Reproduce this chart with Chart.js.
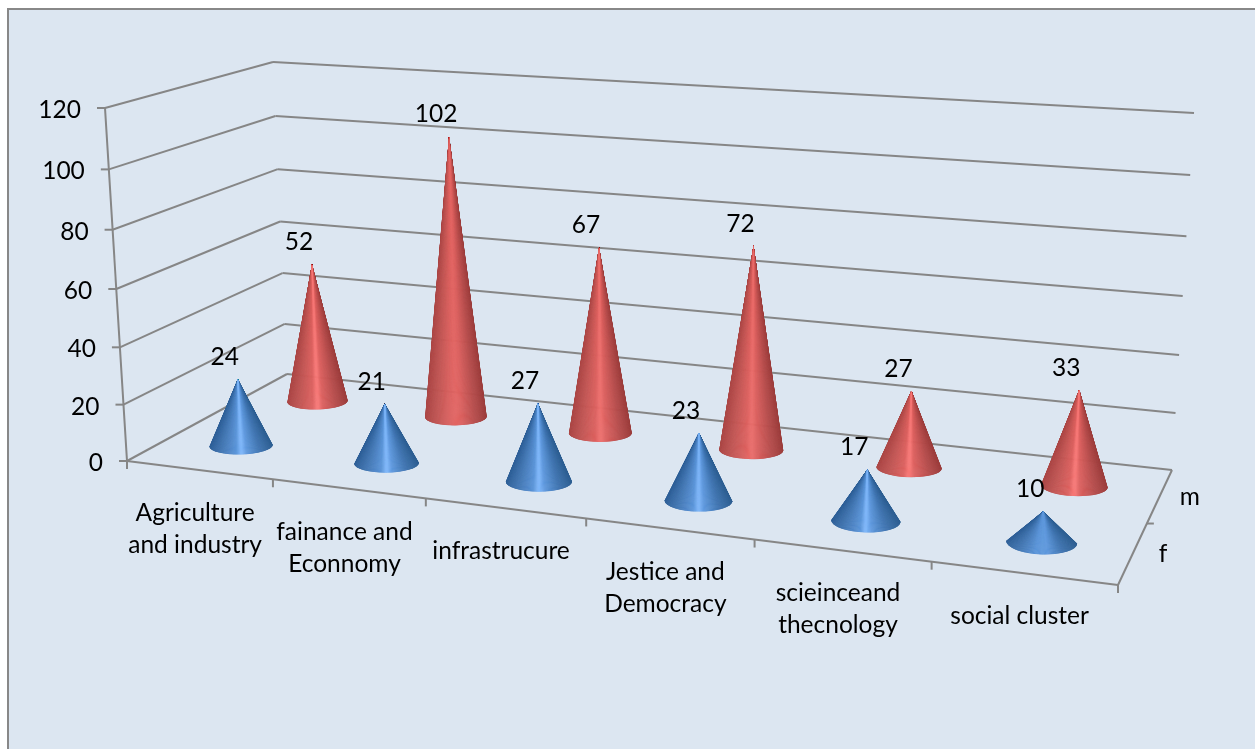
<!DOCTYPE html>
<html>
<head>
<meta charset="utf-8">
<title>Cone chart</title>
<style>
  html, body { margin: 0; padding: 0; background: #fff; }
  canvas { display: block; }
</style>
<script src="https://cdn.jsdelivr.net/npm/chart.js@4/dist/chart.umd.js"></script>
</head>
<body>
<canvas id="chart" width="1255" height="749"></canvas>
<script>
// chart values
const categories = [
    ['Agriculture', 'and industry'],
    ['fainance and', 'Econnomy'],
    ['infrastrucure'],
    ['Jestice and', 'Democracy'],
    ['scieinceand', 'thecnology'],
    ['social cluster']
];
const seriesNames = ['f', 'm'];
const fValues = [24, 21, 27, 23, 17, 10];
const mValues = [52, 102, 67, 72, 27, 33];

// how strong the highlight stripe is on each cone
const fShine = [1, 1, 1, 0.95, 1, 0.1];
const mShine = [1, 0.2, 0.6, 0.5, 1, 1];

// floor corners on screen: front-left, front-right, back-right, back-left
const floorQuad = [[127, 461], [1118, 585], [1172, 470], [287, 374]];
// top of the value axis: front-left, back-right, back-left
const topCorners = [[105, 108], [1194, 113], [273, 62]];
const DEPTH_PERSPECTIVE = -0.05;
const FONT = '24.5px Lato';
const GRID = '#868686';

// unit square to floor quad, as a homography
const floorH = (function (q) {
    const [p0, p1, p2, p3] = q;
    const dx1 = p1[0] - p2[0], dx2 = p3[0] - p2[0], sx = p0[0] - p1[0] + p2[0] - p3[0];
    const dy1 = p1[1] - p2[1], dy2 = p3[1] - p2[1], sy = p0[1] - p1[1] + p2[1] - p3[1];
    const det = dx1 * dy2 - dx2 * dy1;
    const g = (sx * dy2 - dx2 * sy) / det;
    const h = (dx1 * sy - sx * dy1) / det;
    return {
        g, h,
        x: [p1[0] - p0[0] + g * p1[0], p3[0] - p0[0] + h * p3[0], p0[0]],
        y: [p1[1] - p0[1] + g * p1[1], p3[1] - p0[1] + h * p3[1], p0[1]]
    };
})(floorQuad);

// top plane shares the floor's denominator so verticals stay straight
const topH = (function () {
    const j = DEPTH_PERSPECTIVE;
    const d00 = 1 + j, d01 = 1 + floorH.h + j, d11 = 1 + floorH.g + floorH.h + j;
    const solve = k => {
        const c = topCorners[0][k] * d00;
        const b = topCorners[2][k] * d01 - c;
        const a = topCorners[1][k] * d11 - b - c;
        return [a, b, c];
    };
    return { x: solve(0), y: solve(1) };
})();

// u across categories, v into depth, w up the value axis (all 0..1)
function project(u, v, w) {
    const den = floorH.g * u + floorH.h * v + 1 + DEPTH_PERSPECTIVE * w;
    const num = (f, t) => (f[0] * u + f[1] * v + f[2]) * (1 - w) + (t[0] * u + t[1] * v + t[2]) * w;
    return [num(floorH.x, topH.x) / den, num(floorH.y, topH.y) / den];
}

function line(ctx, p, q) {
    ctx.beginPath();
    ctx.moveTo(p[0], p[1]);
    ctx.lineTo(q[0], q[1]);
    ctx.stroke();
}

// shading across a cone, left to right; the stop at .5 is the highlight
const coneStops = {
    f: [[0, [47, 96, 152]], [0.2, [68, 120, 181]], [0.42, [90, 148, 216]], [0.5, [128, 184, 252]], [0.58, [95, 153, 222]], [0.8, [63, 116, 176]], [1, [46, 95, 146]]],
    m: [[0, [172, 72, 71]], [0.2, [194, 86, 84]], [0.42, [221, 97, 95]], [0.5, [250, 122, 120]], [0.58, [221, 97, 95]], [0.8, [184, 78, 77]], [1, [156, 62, 61]]]
};

function shadeAt(stops, t, shine) {
    for (let i = 1; i < stops.length; i++) {
        if (t <= stops[i][0] || i === stops.length - 1) {
            const a = stops[i - 1], b = stops[i];
            const f = (t - a[0]) / (b[0] - a[0]);
            // pull the highlight stop down to the flank colour on dull cones
            const cb = b[0] === 0.5 ? b[1].map((c, k) => stops[2][1][k] + (c - stops[2][1][k]) * shine) : b[1];
            const ca = a[0] === 0.5 ? a[1].map((c, k) => stops[2][1][k] + (c - stops[2][1][k]) * shine) : a[1];
            const rgb = ca.map((c, k) => Math.round(c + (cb[k] - c) * f));
            return 'rgb(' + rgb.join(',') + ')';
        }
    }
}

// bar controller that paints each bar as a cone on the 3D floor
class ConeController extends Chart.BarController {
    draw() {
        const ctx = this.chart.ctx;
        const meta = this.getMeta();
        const xs = meta.xScale, ys = meta.yScale;
        const name = seriesNames[this.index];
        const shine = name === 'f' ? fShine : mShine;
        const v = (this.index + 0.5) / seriesNames.length;
        meta.data.forEach((bar, i) => {
            const u = (xs.getPixelForValue(i) - xs.left) / xs.width;
            const w = (ys.bottom - bar.y) / ys.height;
            const apex = project(u, v, w);
            const base = project(u, v, 0);
            const du = (0.225 - 0.03 * u) / categories.length;
            const rx = (project(u + du, v, 0)[0] - project(u - du, v, 0)[0]) / 2;
            const ry = rx * (0.27 + 0.11 * (1 - v) * u);
            const tilt = -0.035 + 0.08 * u;
            const cosT = Math.cos(tilt), sinT = Math.sin(tilt);
            const rim = th => {
                const ex = rx * Math.cos(th), ey = ry * Math.sin(th);
                return [base[0] + ex * cosT - ey * sinT, base[1] + ex * sinT + ey * cosT];
            };
            ctx.save();
            // silhouette of the cone
            const left = rim(Math.PI);
            ctx.beginPath();
            ctx.moveTo(apex[0], apex[1]);
            ctx.lineTo(left[0], left[1]);
            ctx.ellipse(base[0], base[1], rx, ry, tilt, Math.PI, 0, true);
            ctx.closePath();
            ctx.clip();
            // fan of thin wedges so the shading converges at the tip, outer ones first
            const wedges = 90;
            const order = [];
            for (let k = 0; k < wedges; k++) {
                order.push(k);
            }
            order.sort((a, b) => Math.abs(b - wedges / 2) - Math.abs(a - wedges / 2));
            ctx.lineWidth = 0.6;
            order.forEach(k => {
                const p0 = rim(Math.PI - Math.PI * k / wedges);
                const p1 = rim(Math.PI - Math.PI * (k + 1) / wedges);
                const tm = (1 - Math.cos(Math.PI * (k + 0.5) / wedges)) / 2;
                const col = shadeAt(coneStops[name], tm, shine[i]);
                ctx.fillStyle = col;
                ctx.strokeStyle = col;
                ctx.beginPath();
                ctx.moveTo(apex[0], apex[1]);
                ctx.lineTo(p0[0], p0[1]);
                ctx.lineTo(p1[0], p1[1]);
                ctx.closePath();
                ctx.fill();
                ctx.stroke();
            });
            ctx.restore();
            bar.$apex = apex;
        });
    }
}
ConeController.id = 'cone';
ConeController.defaults = Chart.BarController.defaults;
ConeController.overrides = Chart.BarController.overrides;
Chart.register(ConeController);

const boxPlugin = {
    id: 'box3d',
    beforeDraw(chart) {
        const ctx = chart.ctx;
        ctx.save();
        ctx.fillStyle = '#fff';
        ctx.fillRect(0, 0, chart.width, chart.height);
        ctx.fillStyle = '#dce6f1';
        ctx.fillRect(8, 8, chart.width, chart.height);
        ctx.strokeStyle = '#888';
        ctx.lineWidth = 2;
        ctx.beginPath();
        ctx.moveTo(8, chart.height);
        ctx.lineTo(8, 9);
        ctx.lineTo(chart.width, 9);
        ctx.stroke();
        ctx.restore();
    },
    beforeDatasetsDraw(chart) {
        const ctx = chart.ctx;
        const ys = chart.scales.y, xs = chart.scales.x;
        ctx.save();
        ctx.strokeStyle = GRID;
        ctx.lineWidth = 2;
        ctx.fillStyle = '#000';
        ctx.font = FONT;
        ctx.textBaseline = 'middle';

        // value gridlines on side and back walls, with ticks and labels
        ctx.textAlign = 'right';
        ys.ticks.forEach(t => {
            const w = (ys.bottom - ys.getPixelForValue(t.value)) / ys.height;
            const front = project(0, 0, w), corner = project(0, 1, w), end = project(1, 1, w);
            line(ctx, [front[0] - 8, front[1]], front);
            line(ctx, front, corner);
            line(ctx, corner, end);
            ctx.fillText(t.label, front[0] - 24, front[1] + 2);
        });
        line(ctx, project(0, 0, 0), project(0, 0, 1));

        // floor edges and category labels
        line(ctx, project(0, 0, 0), project(1, 0, 0));
        line(ctx, project(1, 0, 0), project(1, 1, 0));
        ctx.textAlign = 'center';
        categories.forEach((lines, i) => {
            const u0 = (xs.getPixelForValue(i) - xs.left) / xs.width;
            const step = 1 / categories.length;
            const tick = project(u0 + step / 2, 0, 0);
            line(ctx, tick, [tick[0], tick[1] + 8]);
            const mid = project(u0, 0, 0);
            lines.forEach((txt, k) => ctx.fillText(txt, mid[0] - 4, mid[1] + 43 + k * 32));
        });
        const first = project(0, 0, 0);
        line(ctx, first, [first[0], first[1] + 8]);

        // depth ticks and series labels
        const mid = project(1, 0.5, 0);
        line(ctx, mid, [mid[0] + 7, mid[1]]);
        seriesNames.forEach((name, i) => {
            const p = project(1, (i + 0.5) / seriesNames.length, 0);
            ctx.fillText(name, p[0] + 30, p[1] + 1);
        });
        ctx.restore();
    },
    afterDatasetsDraw(chart) {
        const ctx = chart.ctx;
        ctx.save();
        ctx.fillStyle = '#000';
        ctx.font = FONT;
        ctx.textAlign = 'center';
        ctx.textBaseline = 'middle';
        chart.data.datasets.forEach((ds, d) => {
            chart.getDatasetMeta(d).data.forEach((bar, i) => {
                ctx.fillText(String(ds.data[i]), bar.$apex[0] - 13, bar.$apex[1] - 22);
            });
        });
        ctx.restore();
    }
};

new Chart(document.getElementById('chart'), {
    type: 'cone',
    data: {
        labels: categories.map(c => c.join(' ')),
        datasets: [
            { label: seriesNames[0], data: fValues },
            { label: seriesNames[1], data: mValues }
        ]
    },
    options: {
        responsive: false,
        animation: false,
        devicePixelRatio: 1,
        plugins: { legend: { display: false }, tooltip: { enabled: false } },
        scales: {
            x: { display: false },
            y: { display: false, min: 0, max: 120, ticks: { stepSize: 20 } }
        }
    },
    plugins: [boxPlugin]
});
</script>
</body>
</html>
